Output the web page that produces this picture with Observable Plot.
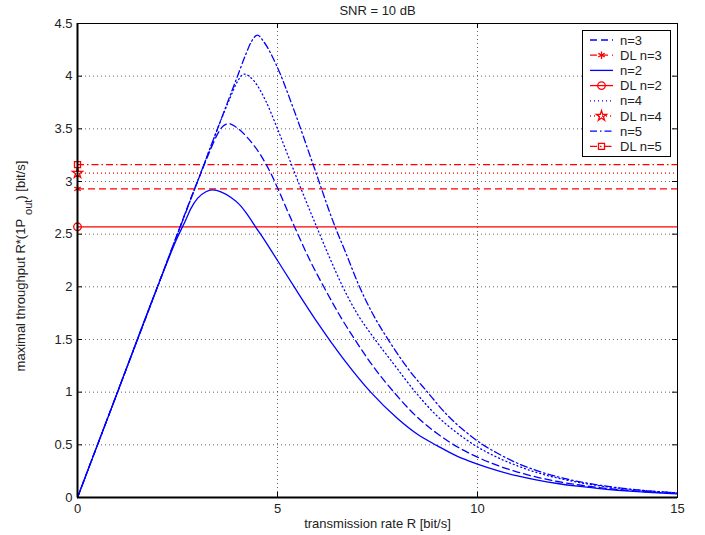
<!DOCTYPE html>
<html><head><meta charset="utf-8">
<script src="https://cdn.jsdelivr.net/npm/d3@7"></script>
<script src="https://cdn.jsdelivr.net/npm/@observablehq/plot@0.6"></script>
<style>body{margin:0;background:#fff;} svg{display:block;}</style>
</head><body><div id="chart"></div>
<script>
// ---------- data ----------
const title = "SNR = 10 dB";
const xLabel = "transmission rate R [bit/s]";
const yLabelMain = "maximal throughput R*(1P";
const yLabelSub = "out";
const yLabelEnd = ") [bit/s]";
const xTicks = [0, 5, 10, 15];
const yTicks = [0, 0.5, 1, 1.5, 2, 2.5, 3, 3.5, 4, 4.5];

const n3R = [0, 1, 2, 3, 3.3, 3.5, 3.65, 3.78, 3.95, 4.24, 4.58, 4.83, 5.0, 5.24, 5.45, 5.8, 6.2, 6.6, 6.95, 7.4, 7.91, 8.5, 9.0, 9.5, 10, 10.5, 11, 11.5, 12, 12.5, 13, 13.5, 14, 14.5, 15];
const n3Y = [0, 1, 2, 3, 3.28, 3.45, 3.53, 3.55, 3.52, 3.42, 3.25, 3.08, 2.94, 2.73, 2.55, 2.26, 1.97, 1.70, 1.49, 1.24, 1.0, 0.76, 0.605, 0.48, 0.383, 0.304, 0.242, 0.192, 0.152, 0.121, 0.096, 0.077, 0.061, 0.048, 0.038];

const n2R = [0, 1, 2, 2.5, 2.7, 2.83, 3.0, 3.2, 3.37, 3.6, 3.83, 4.05, 4.24, 4.45, 4.7, 5.0, 5.45, 6.0, 6.33, 6.7, 7.33, 8.0, 8.5, 9.0, 9.5, 10, 10.5, 11, 11.5, 12, 12.5, 13, 13.5, 14, 14.5, 15];
const n2Y = [0, 1, 2, 2.47, 2.63, 2.74, 2.84, 2.9, 2.92, 2.9, 2.85, 2.78, 2.69, 2.57, 2.43, 2.25, 1.98, 1.66, 1.48, 1.29, 1.0, 0.75, 0.60, 0.49, 0.39, 0.317, 0.255, 0.205, 0.165, 0.133, 0.107, 0.086, 0.069, 0.055, 0.044, 0.034];

const n4R = [0, 1, 2, 3, 3.8, 4.0, 4.16, 4.4, 4.7, 5.0, 5.33, 5.6, 6.0, 6.3, 6.62, 7.0, 7.4, 7.9, 8.45, 9.0, 9.5, 10, 10.5, 11, 11.5, 12, 12.5, 13, 13.5, 14, 14.5, 15];
const n4Y = [0, 1, 2, 3, 3.78, 3.95, 4.02, 3.96, 3.77, 3.50, 3.18, 2.92, 2.55, 2.28, 2.01, 1.74, 1.52, 1.27, 1.0, 0.77, 0.61, 0.48, 0.38, 0.30, 0.235, 0.185, 0.145, 0.114, 0.090, 0.071, 0.056, 0.044];

const n5R = [0, 1, 2, 3, 4, 4.2, 4.35, 4.5, 4.65, 4.99, 5.41, 5.91, 6.43, 6.7, 7.05, 7.4, 7.8, 8.25, 8.75, 9.25, 9.75, 10.1, 10.5, 11, 11.5, 12, 12.5, 13, 13.5, 14, 14.5, 15];
const n5Y = [0, 1, 2, 3, 4, 4.2, 4.33, 4.39, 4.33, 4.09, 3.68, 3.14, 2.58, 2.33, 2.0, 1.73, 1.48, 1.23, 1.0, 0.78, 0.61, 0.51, 0.42, 0.325, 0.253, 0.197, 0.153, 0.12, 0.093, 0.072, 0.056, 0.044];

const dlNames = ["DL n=3", "DL n=2", "DL n=4", "DL n=5"];
const dlValues = [2.93, 2.57, 3.08, 3.16];

// ---------- styling ----------
const W = 705, H = 535;
const M = {top: 23, right: 28, bottom: 38, left: 77};
const plotW = W - M.left - M.right, plotH = H - M.top - M.bottom;
const blue = "#0000ff", red = "#ff0000", ink = "#222";
const FONT = "'Liberation Sans', Arial, Helvetica, sans-serif";

const curves = [
  {name: "n=3", R: n3R, Y: n3Y, dash: "7,4"},
  {name: "n=2", R: n2R, Y: n2Y, dash: null},
  {name: "n=4", R: n4R, Y: n4Y, dash: "1,3"},
  {name: "n=5", R: n5R, Y: n5Y, dash: "7,3,1.5,3"}
];
const dls = dlNames.map((name, i) => ({
  name, value: dlValues[i],
  dash: ["7,4", null, "1,3", "7,3,1.5,3"][i],
  symbol: ["asterisk", "circle", "star", "square"][i],
  r: [3.5, 3.8, 3.2, 3.4][i]
}));

const gridStyle = {stroke: "#000", strokeOpacity: 0.6, strokeDasharray: "1,3", strokeWidth: 1};

const chart = Plot.plot({
  width: W, height: H,
  marginTop: M.top, marginRight: M.right, marginBottom: M.bottom, marginLeft: M.left,
  style: {fontSize: "13px", fontFamily: FONT, color: ink, background: "#fff"},
  x: {domain: [0, 15], ticks: xTicks, tickSize: 0, tickPadding: 6, label: null},
  y: {domain: [0, 4.5], ticks: yTicks, tickSize: 0, tickPadding: 5, label: null, tickFormat: d => String(d)},
  marks: [
    Plot.ruleX(xTicks.filter(d => d > 0 && d < 15), {x: d => d, ...gridStyle}),
    Plot.ruleY(yTicks.filter(d => d > 0 && d < 4.5), {y: d => d, ...gridStyle}),
    ...dls.map(d => Plot.ruleY([d.value], {y: v => v, stroke: red, strokeWidth: 1.3, strokeDasharray: d.dash})),
    ...curves.map(c => Plot.line(c.R.map((r, i) => [r, c.Y[i]]), {
      x: d => d[0], y: d => d[1], stroke: blue, strokeWidth: 1.3, strokeDasharray: c.dash, curve: "monotone-x"
    })),
    ...dls.map(d => Plot.dot([d.value], {x: () => 0, y: v => v, symbol: d.symbol, r: d.r, stroke: red, fill: "none", strokeWidth: 1.3})),
    // inward ticks
    Plot.tickX(xTicks, {x: d => d, insetTop: plotH - 5, stroke: "#000"}),
    Plot.tickX(xTicks, {x: d => d, insetBottom: plotH - 5, stroke: "#000"}),
    Plot.tickY(yTicks, {y: d => d, insetRight: plotW - 5, stroke: "#000"}),
    Plot.tickY(yTicks, {y: d => d, insetLeft: plotW - 5, stroke: "#000"}),
    Plot.frame({stroke: "#000", strokeWidth: 1}),
    Plot.ruleX([0], {x: d => d, stroke: "#000", strokeWidth: 2}),
    Plot.ruleY([0], {y: d => d, stroke: "#000", strokeWidth: 2}),
    Plot.text([title], {text: d => d, frameAnchor: "top", lineAnchor: "middle", dy: -13, fontSize: 13, fill: ink}),
    Plot.text([xLabel], {text: d => d, frameAnchor: "bottom", lineAnchor: "middle", dy: 26, fontSize: 13, fill: ink})
  ]
});

document.getElementById("chart").appendChild(chart);

// ---------- y label with subscript ----------
const svg = d3.select(chart);
const yl = svg.append("text")
  .attr("transform", `translate(25,${M.top + plotH / 2 + 6}) rotate(-90)`)
  .attr("text-anchor", "middle")
  .attr("font-family", FONT).attr("font-size", 13).attr("fill", ink);
yl.append("tspan").text(yLabelMain);
yl.append("tspan").attr("dx", 4).attr("dy", 7).attr("font-size", 11).text(yLabelSub);
yl.append("tspan").attr("dy", -7).text(yLabelEnd);

// ---------- legend ----------
const legendItems = [];
curves.forEach((c, i) => {
  legendItems.push({name: c.name, color: blue, dash: c.dash});
  legendItems.push({name: dls[i].name, color: red, dash: dls[i].dash, symbol: dls[i].symbol, r: dls[i].r});
});
const lg = svg.append("g").attr("font-family", FONT).attr("font-size", 13).attr("fill", ink).attr("text-anchor", "start");
lg.append("rect").attr("x", 582.5).attr("y", 30.5).attr("width", 88).attr("height", 126)
  .attr("fill", "#fff").attr("stroke", "#000");
legendItems.forEach((it, i) => {
  const y = 40 + i * 15.2;
  lg.append("line").attr("x1", 590).attr("x2", 613).attr("y1", y).attr("y2", y)
    .attr("stroke", it.color).attr("stroke-width", 1.3).attr("stroke-dasharray", it.dash);
  if (it.symbol) {
    const sym = {asterisk: d3.symbolAsterisk, circle: d3.symbolCircle, star: d3.symbolStar, square: d3.symbolSquare}[it.symbol];
    lg.append("path").attr("transform", `translate(601.5,${y})`)
      .attr("d", d3.symbol(sym, Math.PI * it.r * it.r)())
      .attr("fill", "none").attr("stroke", it.color).attr("stroke-width", 1.3);
  }
  lg.append("text").attr("x", 620).attr("y", y).attr("dy", "0.35em").attr("text-anchor", "start").text(it.name);
});
</script>
</body></html>
